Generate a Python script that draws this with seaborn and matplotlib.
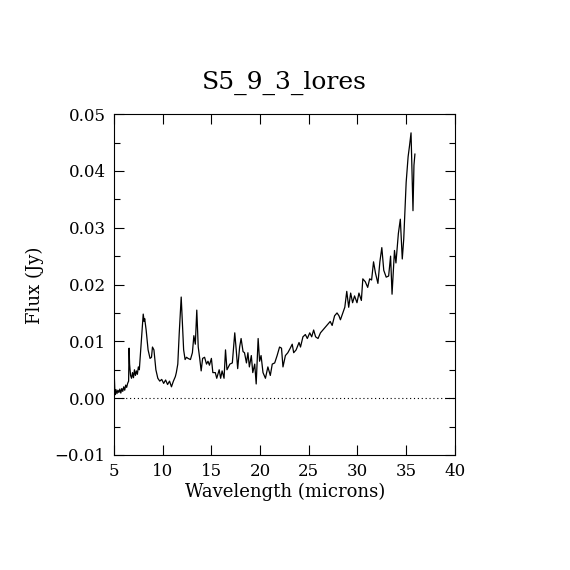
import numpy as np
import pandas as pd
import matplotlib
matplotlib.use("Agg")
import matplotlib.pyplot as plt
import seaborn as sns
from matplotlib.ticker import MultipleLocator

title = "S5_9_3_lores"
xlabel = "Wavelength (microns)"
ylabel = "Flux (Jy)"

wavelength = [5.0, 5.05, 5.1, 5.2, 5.3, 5.4, 5.5, 5.6, 5.7, 5.8, 5.9, 6.0, 6.1, 6.2, 6.3, 6.4, 6.5, 6.55, 6.6, 6.7,
              6.8, 6.9, 7.0, 7.1, 7.2, 7.3, 7.4, 7.5, 7.6, 7.7, 7.8, 7.9, 8.0, 8.1, 8.15, 8.3, 8.5, 8.7, 8.85, 8.95,
              9.1, 9.3, 9.5, 9.7, 9.9, 10.1, 10.3, 10.5, 10.7, 10.9, 11.1, 11.3, 11.4, 11.55, 11.7, 11.85, 11.9, 12.0,
              12.15, 12.3, 12.45, 12.6, 12.85, 13.05, 13.2, 13.35, 13.5, 13.65, 13.8, 13.95, 14.1, 14.3, 14.5, 14.65,
              14.8, 15.0, 15.15, 15.4, 15.55, 15.8, 15.95, 16.1, 16.3, 16.45, 16.6, 16.9, 17.15, 17.4, 17.55, 17.7,
              17.9, 18.05, 18.25, 18.4, 18.6, 18.75, 18.9, 19.1, 19.25, 19.45, 19.6, 19.8, 19.95, 20.1, 20.3, 20.55,
              20.8, 21.05, 21.25, 21.5, 21.75, 22.0, 22.2, 22.35, 22.6, 22.85, 23.1, 23.3, 23.45, 23.7, 24.0, 24.15,
              24.4, 24.65, 24.85, 25.1, 25.3, 25.5, 25.7, 25.95, 26.2, 26.45, 26.7, 26.95, 27.2, 27.4, 27.65, 27.9,
              28.1, 28.25, 28.45, 28.7, 28.9, 29.1, 29.3, 29.5, 29.7, 29.95, 30.15, 30.4, 30.55, 30.8, 31.05, 31.25,
              31.45, 31.65, 31.85, 32.1, 32.3, 32.5, 32.7, 32.95, 33.2, 33.4, 33.55, 33.8, 33.95, 34.2, 34.4, 34.6,
              34.75, 35.0, 35.2, 35.35, 35.5, 35.7, 35.8, 35.9]
flux = [0.0053, 0.0030, 0.0006, 0.0015, 0.0008, 0.0014, 0.0010, 0.0016, 0.0009, 0.0017, 0.0012, 0.0020, 0.0014,
        0.0023, 0.0019, 0.0026, 0.0030, 0.0088, 0.0060, 0.0040, 0.0035, 0.0045, 0.0036, 0.0050, 0.0040, 0.0048,
        0.0042, 0.0055, 0.0050, 0.0075, 0.0100, 0.0125, 0.0148, 0.0135, 0.0140, 0.0120, 0.0085, 0.0070, 0.0072,
        0.0090, 0.0085, 0.0050, 0.0035, 0.0030, 0.0033, 0.0026, 0.0032, 0.0024, 0.0030, 0.0020, 0.0030, 0.0038,
        0.0045, 0.0060, 0.0115, 0.0160, 0.0178, 0.0140, 0.0085, 0.0068, 0.0072, 0.0070, 0.0068, 0.0080, 0.0110,
        0.0095, 0.0155, 0.0090, 0.0070, 0.0048, 0.0070, 0.0072, 0.0060, 0.0065, 0.0058, 0.0070, 0.0045, 0.0045,
        0.0035, 0.0050, 0.0035, 0.0048, 0.0035, 0.0085, 0.0050, 0.0060, 0.0062, 0.0115, 0.0085, 0.0052, 0.0090,
        0.0105, 0.0082, 0.0080, 0.0062, 0.0080, 0.0055, 0.0075, 0.0045, 0.0060, 0.0025, 0.0105, 0.0065, 0.0075,
        0.0045, 0.0035, 0.0055, 0.0040, 0.0060, 0.0062, 0.0075, 0.0090, 0.0088, 0.0055, 0.0075, 0.0080, 0.0088,
        0.0095, 0.0080, 0.0085, 0.0098, 0.0090, 0.0108, 0.0112, 0.0105, 0.0115, 0.0108, 0.0120, 0.0108, 0.0105,
        0.0115, 0.0120, 0.0125, 0.0130, 0.0135, 0.0128, 0.0145, 0.0150, 0.0145, 0.0138, 0.0148, 0.0160, 0.0188,
        0.0160, 0.0185, 0.0168, 0.0180, 0.0168, 0.0185, 0.0172, 0.0210, 0.0205, 0.0195, 0.0210, 0.0208, 0.0240,
        0.0220, 0.0202, 0.0240, 0.0265, 0.0225, 0.0213, 0.0215, 0.0250, 0.0183, 0.0260, 0.0238, 0.0290, 0.0315,
        0.0245, 0.0280, 0.0380, 0.0425, 0.0445, 0.0467, 0.0330, 0.0410, 0.0430]

df = pd.DataFrame({"wavelength": wavelength, "flux": flux})

sns.set_style("ticks")
plt.rcParams["font.family"] = ["DejaVu Serif"]
plt.rcParams["text.color"] = "black"
plt.rcParams["xtick.color"] = "black"
plt.rcParams["ytick.color"] = "black"

fig = plt.figure(figsize=(5.7, 5.7), dpi=100)
ax = fig.add_axes([0.2, 0.2018, 0.598, 0.598])

sns.lineplot(data=df, x="wavelength", y="flux", ax=ax, color="black", linewidth=0.9,
             sort=False, estimator=None)
ax.axhline(0.0, color="black", linestyle=(0, (1, 2.5)), linewidth=0.8)

ax.set_xlim(5, 40)
ax.set_ylim(-0.01, 0.05)
ax.xaxis.set_major_locator(MultipleLocator(5))
ax.yaxis.set_major_locator(MultipleLocator(0.01))
ax.yaxis.set_minor_locator(MultipleLocator(0.005))
ax.yaxis.set_major_formatter(matplotlib.ticker.FuncFormatter(
    lambda v, p: ("\u2212" if v < -1e-9 else "") + f"{abs(v):.2f}"))
ax.tick_params(which="both", direction="in", top=True, right=True, color="black", width=0.8,
               labelcolor="black")
ax.tick_params(which="major", length=7, labelsize=12, pad=6)
ax.tick_params(which="minor", length=4)
for s in ax.spines.values():
    s.set_color("black")
    s.set_linewidth(0.8)

ax.set_xlabel("")
ax.set_ylabel("")
fig.text(0.4995, 0.137, xlabel, ha="center", va="center", fontsize=13, color="black")
fig.text(0.061, 0.5, ylabel, ha="center", va="center", rotation=90, fontsize=13, color="black")
fig.text(0.4995, 0.854, title, ha="center", va="center", fontsize=18, color="black")

fig.savefig("out.png", dpi=100, facecolor="white")
